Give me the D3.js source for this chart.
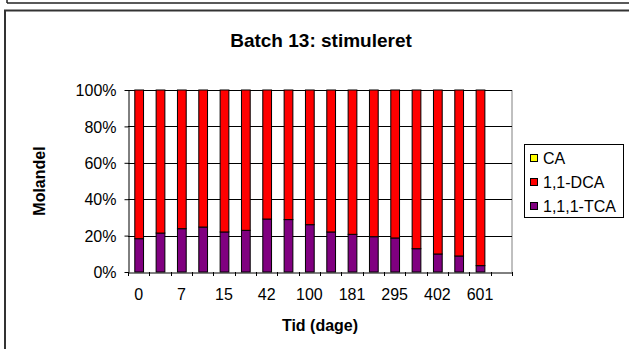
<!DOCTYPE html>
<html>
<head>
<meta charset="utf-8">
<script src="https://cdn.jsdelivr.net/npm/d3@7"></script>
<style>
  html, body { margin: 0; padding: 0; background: #fff; }
  svg { display: block; }
  text { font-family: "Liberation Sans", Arial, sans-serif; fill: #000; }
</style>
</head>
<body>
<svg id="chart" width="629" height="349"></svg>
<script>
// ---- data ----
const title = "Batch 13: stimuleret";
const xTitle = "Tid (dage)";
const yTitle = "Molandel";
const categories = ["0", "", "7", "", "15", "", "42", "", "100", "", "181", "", "295", "", "402", "", "601", ""];
const seriesNames = ["CA", "1,1-DCA", "1,1,1-TCA"];
const seriesColors = ["#FFFF00", "#FF0000", "#800080"];
const caValues  = [0, 0, 0, 0, 0, 0, 0, 0, 0, 0, 0, 0, 0, 0, 0, 0, 0, null];
const dcaValues = [81.7, 78.6, 76.2, 75.3, 78.0, 77.1, 70.9, 71.2, 74.0, 78.0, 79.3, 80.6, 81.3, 87.2, 90.1, 91.2, 96.5, null];
const tcaValues = [18.3, 21.4, 23.8, 24.7, 22.0, 22.9, 29.1, 28.8, 26.0, 22.0, 20.7, 19.4, 18.7, 12.8, 9.9, 8.8, 3.5, null];
const yTicks = [0, 0.2, 0.4, 0.6, 0.8, 1.0];

// ---- layout ----
const svg = d3.select("#chart");
const plot = { left: 128, right: 512, top: 90, bottom: 272 };

// frames
svg.append("line").attr("x1", 7).attr("x2", 640).attr("y1", 3).attr("y2", 3)
  .attr("stroke", "#222").attr("stroke-width", 1.5);
svg.append("line").attr("x1", 7).attr("x2", 7).attr("y1", -2).attr("y2", 3)
  .attr("stroke", "#222").attr("stroke-width", 1.5);
svg.append("path").attr("d", "M5,360 V10.5 H640")
  .attr("fill", "none").attr("stroke", "#333").attr("stroke-width", 2);

// table
const idx = d3.range(categories.length);
const table = idx.map(i => ({ i, tca: tcaValues[i], dca: dcaValues[i], ca: caValues[i] }));
const keys = ["tca", "dca", "ca"];
const colorOf = { ca: seriesColors[0], dca: seriesColors[1], tca: seriesColors[2] };

const stack = d3.stack().keys(keys).value((d, k) => d[k] == null ? 0 : d[k]).offset(d3.stackOffsetExpand);
const stacked = stack(table.filter(d => d.tca != null));

const xCat = d3.scaleBand().domain(idx).range([plot.left, plot.right]).padding(0);
const xBar = d3.scaleBand().domain(idx).range([plot.left, plot.right]).paddingInner(0.59).paddingOuter(0.295);
const y = d3.scaleLinear().domain([0, 1]).range([plot.bottom, plot.top]);

// plot border (right)
svg.append("line").attr("x1", plot.right).attr("x2", plot.right)
  .attr("y1", plot.top).attr("y2", plot.bottom).attr("stroke", "#808080").attr("stroke-width", 1);

// gridlines
svg.append("g").selectAll("line").data(yTicks.filter(t => t > 0)).join("line")
  .attr("x1", plot.left).attr("x2", plot.right)
  .attr("y1", d => Math.round(y(d)) + 0.5).attr("y2", d => Math.round(y(d)) + 0.5)
  .attr("stroke", "#000").attr("stroke-width", 1);

// bars
svg.append("g").selectAll("g").data(stacked).join("g")
  .attr("fill", s => colorOf[s.key])
  .selectAll("rect").data(s => s).join("rect")
  .attr("x", d => xBar(d.data.i) + 0.5)
  .attr("width", xBar.bandwidth())
  .attr("y", d => y(d[1]))
  .attr("height", d => Math.max(0, y(d[0]) - y(d[1])))
  .attr("stroke", "#000").attr("stroke-width", 1);

// y axis
const yAxis = svg.append("g").attr("transform", `translate(${plot.left + 0.5},0)`)
  .call(d3.axisLeft(y).tickValues(yTicks).tickFormat(d3.format(".0%")).tickSize(4).tickSizeOuter(0).tickPadding(8));
yAxis.select(".domain").attr("stroke", "#000");
yAxis.selectAll(".tick line").attr("stroke", "#000");
yAxis.selectAll("text").style("font-size", "16px").attr("dy", "0.35em");

// x axis
const xAxis = svg.append("g").attr("transform", `translate(0,${plot.bottom + 0.5})`)
  .call(d3.axisBottom(xCat).tickFormat(i => categories[i]).tickSize(0).tickSizeOuter(0).tickPadding(16));
xAxis.select(".domain").attr("stroke", "#000");
xAxis.selectAll("text").style("font-size", "16px").attr("dy", "0.71em");
// boundary ticks
svg.append("g").selectAll("line").data(d3.range(categories.length + 1)).join("line")
  .attr("x1", i => Math.round(plot.left + i * xCat.step()) + 0.5)
  .attr("x2", i => Math.round(plot.left + i * xCat.step()) + 0.5)
  .attr("y1", plot.bottom).attr("y2", plot.bottom + 4)
  .attr("stroke", "#000");

// titles
svg.append("text").attr("x", 321).attr("y", 47).attr("text-anchor", "middle")
  .style("font-size", "19px").style("font-weight", "bold").text(title);
svg.append("text").attr("x", 320).attr("y", 331).attr("text-anchor", "middle")
  .style("font-size", "16px").style("font-weight", "bold").text(xTitle);
svg.append("text").attr("transform", "translate(45,181) rotate(-90)").attr("text-anchor", "middle")
  .style("font-size", "16px").style("font-weight", "bold").text(yTitle);

// legend
const lg = svg.append("g");
lg.append("rect").attr("x", 524.5).attr("y", 144.5).attr("width", 99).attr("height", 73)
  .attr("fill", "#fff").attr("stroke", "#000");
const items = lg.selectAll("g.item").data(seriesNames).join("g").attr("class", "item")
  .attr("transform", (d, i) => `translate(0,${158 + i * 24})`);
items.append("rect").attr("x", 530.5).attr("y", -3.5).attr("width", 7).attr("height", 7)
  .attr("fill", (d, i) => seriesColors[i]).attr("stroke", "#000");
items.append("text").attr("x", 543).attr("y", 5.7).style("font-size", "16px").text(d => d);
</script>
</body>
</html>
